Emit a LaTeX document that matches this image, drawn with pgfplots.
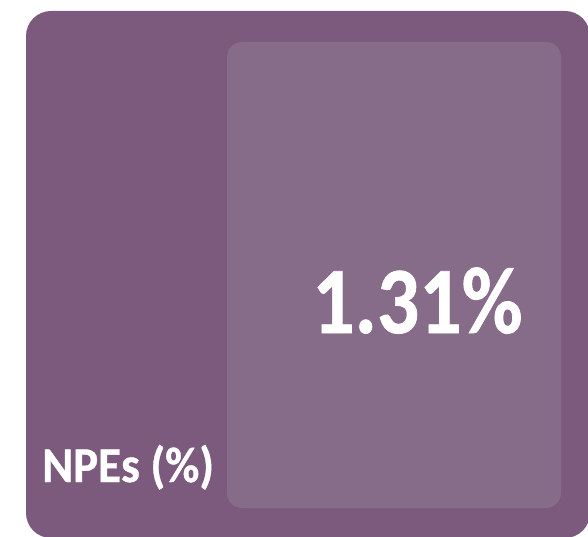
\documentclass[border=0pt]{standalone}
\usepackage{pgfplots}
\pgfplotsset{compat=1.18}
\usepackage{fontspec}
\setmainfont{Carlito}
\newfontfamily\kpifont[FakeBold=0.8]{Carlito Bold}
\definecolor{tileouter}{RGB}{123,90,126}
\definecolor{tileinner}{RGB}{134,108,137}

\begin{document}
\begin{tikzpicture}
\begin{axis}[
    hide axis,
    scale only axis,
    width=588pt, height=537pt,
    xmin=0, xmax=588,
    ymin=0, ymax=537,
    y dir=reverse,
    clip=true,
]
% tile background
\fill[tileouter, rounded corners=25pt] (axis cs:26,11) rectangle (axis cs:590,538);
\fill[tileinner, rounded corners=15pt] (axis cs:227,42) rectangle (axis cs:561,508);

% KPI value
\addplot[
    only marks, mark=none,
    point meta=explicit,
    nodes near coords={\scalebox{0.88}[1]{\pgfmathprintnumber[fixed,precision=2,fixed zerofill,assume math mode=true]{\pgfplotspointmeta}\%}},
    every node near coord/.append style={
        anchor=base west, inner sep=0pt, text=white,
        font=\fontsize{95}{95}\kpifont},
] coordinates {(312,333) [1.31]};

% label
\node[anchor=base west, inner sep=0pt, text=white,
      font=\fontsize{47}{47}\kpifont]
      at (axis cs:42,482) {\scalebox{0.94}[1]{\fontsize{50}{50}\kpifont NPEs (\%)}};
\end{axis}
\pgfresetboundingbox
\path (0,0) rectangle (588pt,537pt);
\end{tikzpicture}
\end{document}
